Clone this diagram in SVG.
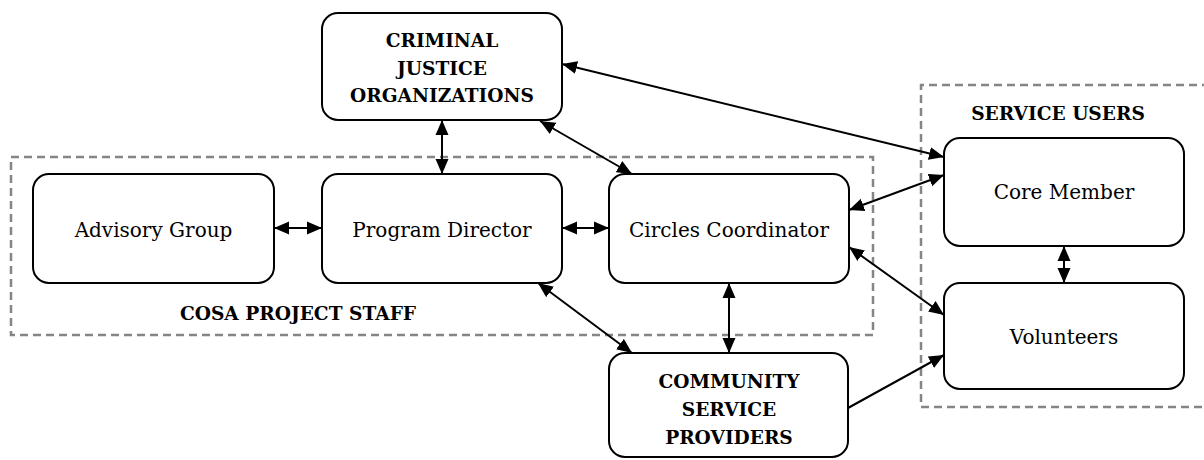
<svg xmlns="http://www.w3.org/2000/svg" width="1204" height="460" viewBox="0 0 1204 460">
<style>
.node{fill:#fff;stroke:#000;stroke-width:2}
.grp{fill:none;stroke:#858585;stroke-width:2.5;stroke-dasharray:8 5}
.t{font-family:"DejaVu Serif","Liberation Serif",serif;font-size:20px;fill:#000;text-anchor:middle}
.b{font-family:"DejaVu Serif","Liberation Serif",serif;font-size:18.6px;font-weight:bold;fill:#000;text-anchor:middle}
.c{stroke:#000;stroke-width:2;fill:none}
</style>
<defs>
<marker id="ah" markerUnits="userSpaceOnUse" markerWidth="16" markerHeight="14" refX="15" refY="6.5" orient="auto-start-reverse" viewBox="0 0 16 13">
<path d="M0,0 L15,6.5 L0,13 z" fill="#000"/>
</marker>
</defs>
<rect width="1204" height="460" fill="#fff"/>
<g id="cosa-staff">
<rect class="grp" x="11" y="157" width="862" height="178"/>
<text class="b" x="298" y="320">COSA PROJECT STAFF</text>
</g>
<g id="service-users">
<path class="grp" d="M1210,85 H921 V407 H1210"/>
<text class="b" x="1058" y="120">SERVICE USERS</text>
</g>
<g id="connectors">
<line class="c" x1="562" y1="64" x2="944" y2="157" marker-start="url(#ah)" marker-end="url(#ah)"/>
<line class="c" x1="540" y1="121" x2="632" y2="174" marker-start="url(#ah)" marker-end="url(#ah)"/>
<line class="c" x1="442" y1="120" x2="442" y2="174" marker-start="url(#ah)" marker-end="url(#ah)"/>
<line class="c" x1="274" y1="228" x2="322" y2="228" marker-start="url(#ah)" marker-end="url(#ah)"/>
<line class="c" x1="562" y1="228" x2="609" y2="228" marker-start="url(#ah)" marker-end="url(#ah)"/>
<line class="c" x1="849" y1="210" x2="944" y2="175" marker-start="url(#ah)" marker-end="url(#ah)"/>
<line class="c" x1="849" y1="247" x2="944" y2="315" marker-start="url(#ah)" marker-end="url(#ah)"/>
<line class="c" x1="848" y1="408" x2="944" y2="355" marker-end="url(#ah)"/>
<line class="c" x1="538" y1="283" x2="632" y2="353" marker-start="url(#ah)" marker-end="url(#ah)"/>
<line class="c" x1="729" y1="283" x2="729" y2="353" marker-start="url(#ah)" marker-end="url(#ah)"/>
<line class="c" x1="1064" y1="246" x2="1064" y2="283" marker-start="url(#ah)" marker-end="url(#ah)"/>
</g>
<g id="criminal-justice">
<rect class="node" x="322" y="13" width="240" height="107" rx="16"/>
<text class="b" x="442" y="47">CRIMINAL</text>
<text class="b" x="442" y="74.5">JUSTICE</text>
<text class="b" x="442" y="102">ORGANIZATIONS</text>
</g>
<g id="advisory-group">
<rect class="node" x="33" y="174" width="241" height="109" rx="16"/>
<text class="t" x="153.5" y="237">Advisory Group</text>
</g>
<g id="program-director">
<rect class="node" x="322" y="174" width="240" height="109" rx="16"/>
<text class="t" x="442" y="237">Program Director</text>
</g>
<g id="circles-coordinator">
<rect class="node" x="609" y="174" width="240" height="109" rx="16"/>
<text class="t" x="729" y="237">Circles Coordinator</text>
</g>
<g id="community-service">
<rect class="node" x="609" y="353" width="239" height="104" rx="16"/>
<text class="b" x="729" y="388">COMMUNITY</text>
<text class="b" x="729" y="416">SERVICE</text>
<text class="b" x="729" y="444">PROVIDERS</text>
</g>
<g id="core-member">
<rect class="node" x="944" y="138" width="240" height="108" rx="16"/>
<text class="t" x="1064" y="199">Core Member</text>
</g>
<g id="volunteers">
<rect class="node" x="944" y="283" width="240" height="106" rx="16"/>
<text class="t" x="1064" y="344">Volunteers</text>
</g>
</svg>
